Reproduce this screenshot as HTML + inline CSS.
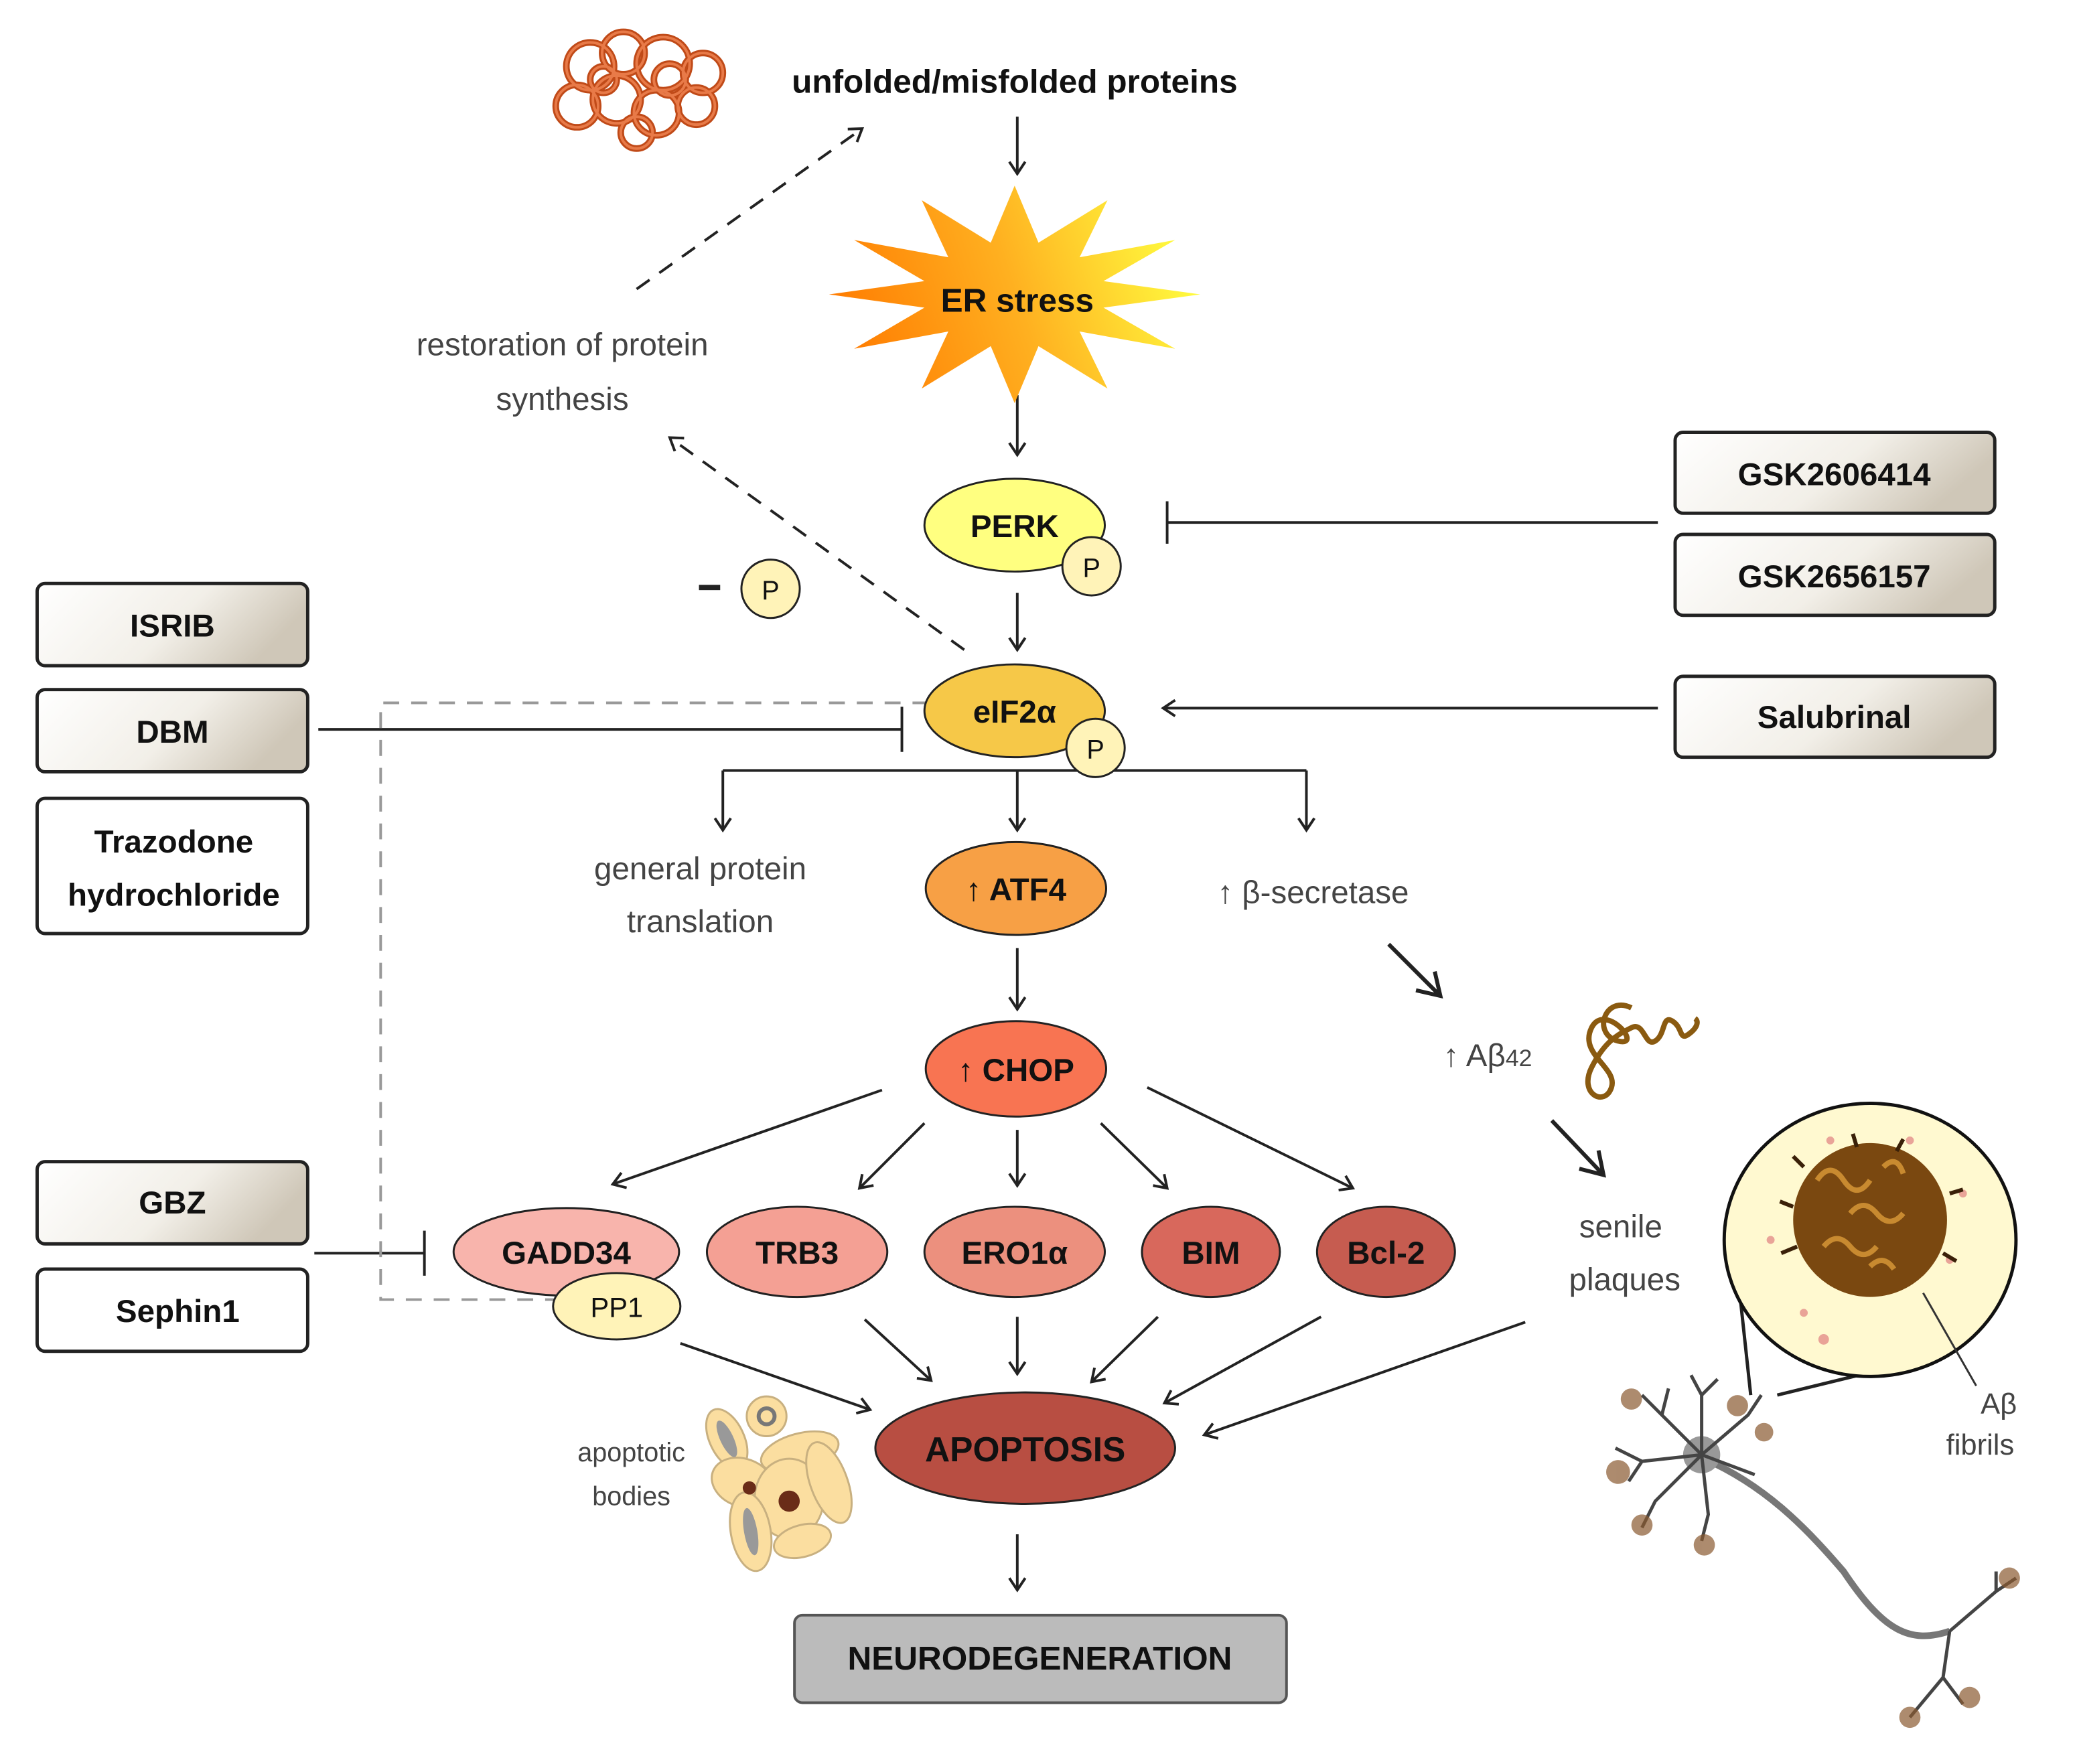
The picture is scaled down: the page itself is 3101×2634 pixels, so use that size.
<!DOCTYPE html>
<html><head><meta charset="utf-8"><style>
html,body{margin:0;padding:0;background:#fff;}
svg{display:block;}
text{font-family:"Liberation Sans",Arial,sans-serif;}
.b{font-weight:bold;fill:#111;}
.g{fill:#444;}
</style></head><body>
<svg width="3101" height="2634" viewBox="0 0 1566 1330.2" preserveAspectRatio="none" xmlns="http://www.w3.org/2000/svg">
<defs>
<marker id="a" markerWidth="14" markerHeight="14" refX="11" refY="7" orient="auto" markerUnits="userSpaceOnUse">
<path d="M2,1 L11,7 L2,13" fill="none" stroke="#222" stroke-width="2"/></marker>
<marker id="ab" markerWidth="24" markerHeight="24" refX="19" refY="12" orient="auto" markerUnits="userSpaceOnUse">
<path d="M3,2 L19,12 L3,22" fill="none" stroke="#222" stroke-width="3"/></marker>
<linearGradient id="star" x1="0" y1="0.6" x2="1" y2="0.4"><stop offset="0" stop-color="#ff7a00"/><stop offset="0.5" stop-color="#ffb020"/><stop offset="1" stop-color="#ffff40"/></linearGradient>
<linearGradient id="box" x1="0" y1="0" x2="1" y2="0.3"><stop offset="0" stop-color="#fff"/><stop offset="0.6" stop-color="#f2efe8"/><stop offset="1" stop-color="#cfc7b8"/></linearGradient>
</defs>

<g fill="none" stroke="#c04a18" stroke-width="5">
<circle cx="445" cy="50" r="18"/><circle cx="470" cy="40" r="16"/><circle cx="500" cy="48" r="20"/><circle cx="530" cy="55" r="15"/>
<circle cx="435" cy="80" r="16"/><circle cx="465" cy="75" r="18"/><circle cx="495" cy="85" r="17"/><circle cx="525" cy="80" r="14"/>
<circle cx="480" cy="100" r="12"/><circle cx="505" cy="60" r="12"/><circle cx="455" cy="60" r="10"/>
</g>
<g fill="none" stroke="#e87a48" stroke-width="2">
<circle cx="445" cy="50" r="18"/><circle cx="470" cy="40" r="16"/><circle cx="500" cy="48" r="20"/><circle cx="530" cy="55" r="15"/>
<circle cx="435" cy="80" r="16"/><circle cx="465" cy="75" r="18"/><circle cx="495" cy="85" r="17"/><circle cx="525" cy="80" r="14"/>
<circle cx="480" cy="100" r="12"/><circle cx="505" cy="60" r="12"/><circle cx="455" cy="60" r="10"/>
</g>
<text x="765" y="70" class="b" font-size="25" text-anchor="middle">unfolded/misfolded proteins</text>

<g stroke="#222" stroke-width="2" fill="none">
<line x1="767" y1="88" x2="767" y2="131" marker-end="url(#a)"/>
<line x1="767" y1="298" x2="767" y2="343" marker-end="url(#a)"/>
<line x1="767" y1="447" x2="767" y2="490" marker-end="url(#a)"/>
<polyline points="545,581 985,581"/>
<line x1="545" y1="581" x2="545" y2="626" marker-end="url(#a)"/>
<line x1="767" y1="581" x2="767" y2="626" marker-end="url(#a)"/>
<line x1="985" y1="581" x2="985" y2="626" marker-end="url(#a)"/>
<line x1="767" y1="715" x2="767" y2="761" marker-end="url(#a)"/>
<line x1="665" y1="822" x2="462" y2="893" marker-end="url(#a)"/>
<line x1="697" y1="847" x2="648" y2="896" marker-end="url(#a)"/>
<line x1="767" y1="852" x2="767" y2="894" marker-end="url(#a)"/>
<line x1="830" y1="847" x2="880" y2="896" marker-end="url(#a)"/>
<line x1="865" y1="820" x2="1020" y2="896" marker-end="url(#a)"/>
<line x1="513" y1="1013" x2="656" y2="1063" marker-end="url(#a)"/>
<line x1="652" y1="995" x2="702" y2="1041" marker-end="url(#a)"/>
<line x1="767" y1="993" x2="767" y2="1036" marker-end="url(#a)"/>
<line x1="873" y1="993" x2="823" y2="1042" marker-end="url(#a)"/>
<line x1="996" y1="993" x2="878" y2="1058" marker-end="url(#a)"/>
<line x1="1150" y1="997" x2="908" y2="1082" marker-end="url(#a)"/>
<line x1="767" y1="1157" x2="767" y2="1199" marker-end="url(#a)"/>
<line x1="1250" y1="394" x2="880" y2="394"/><line x1="880" y1="378" x2="880" y2="410"/>
<line x1="1250" y1="534" x2="877" y2="534" marker-end="url(#a)"/>
<line x1="240" y1="550" x2="680" y2="550"/><line x1="680" y1="533" x2="680" y2="567"/>
<line x1="237" y1="945" x2="320" y2="945"/><line x1="320" y1="928" x2="320" y2="962"/>
<line x1="1047" y1="712" x2="1086" y2="751" stroke-width="3" marker-end="url(#ab)"/>
<line x1="1170" y1="845" x2="1209" y2="886" stroke-width="3" marker-end="url(#ab)"/>
</g>
<g stroke="#222" stroke-width="2" fill="none" stroke-dasharray="12,9">
<line x1="727" y1="490" x2="505" y2="330" marker-end="url(#a)"/>
<line x1="480" y1="218" x2="650" y2="97" marker-end="url(#a)"/>
</g>
<polyline points="700,530 287,530 287,980 420,980" fill="none" stroke="#999" stroke-width="2" stroke-dasharray="12,9"/>

<polygon fill="url(#star)" points="905,222 832,232 886,263 814,250 835,293 783,261 765,304 747,261 695,293 715,250 644,263 697,232 625,222 697,212 644,181 715,194 695,151 747,183 765,140 783,183 835,151 814,194 886,181 832,212"/>
<text x="767" y="235" class="b" font-size="25" text-anchor="middle">ER stress</text>

<text x="424" y="268" class="g" font-size="24" text-anchor="middle">restoration of protein</text>
<text x="424" y="309" class="g" font-size="24" text-anchor="middle">synthesis</text>

<g stroke="#222" stroke-width="1.5">
<ellipse cx="765" cy="396" rx="68" ry="35" fill="#ffff80"/>
<circle cx="823" cy="427" r="22" fill="#fff3b8"/>
<ellipse cx="765" cy="536" rx="68" ry="35" fill="#f6c848"/>
<circle cx="826" cy="564" r="22" fill="#fff3b8"/>
<circle cx="581" cy="444" r="22" fill="#fff3b8"/>
<ellipse cx="766" cy="670" rx="68" ry="35" fill="#f7a045"/>
<ellipse cx="766" cy="806" rx="68" ry="36" fill="#f87452"/>
<ellipse cx="427" cy="944" rx="85" ry="33" fill="#f8b4ac"/>
<ellipse cx="601" cy="944" rx="68" ry="34" fill="#f4a094"/>
<ellipse cx="765" cy="944" rx="68" ry="34" fill="#ec907e"/>
<ellipse cx="913" cy="944" rx="52" ry="34" fill="#d8685c"/>
<ellipse cx="1045" cy="944" rx="52" ry="34" fill="#c65c50"/>
<ellipse cx="465" cy="985" rx="48" ry="25" fill="#fff3b8"/>
<ellipse cx="773" cy="1092" rx="113" ry="42" fill="#b84e42"/>
</g>
<rect x="527" y="441" width="16" height="4" fill="#222"/>
<text x="765" y="405" class="b" font-size="24" text-anchor="middle">PERK</text>
<text x="823" y="435" font-size="20" text-anchor="middle" fill="#111">P</text>
<text x="765" y="545" class="b" font-size="24" text-anchor="middle">eIF2α</text>
<text x="826" y="572" font-size="20" text-anchor="middle" fill="#111">P</text>
<text x="581" y="452" font-size="20" text-anchor="middle" fill="#111">P</text>
<text x="766" y="679" class="b" font-size="24" text-anchor="middle"><tspan font-weight="normal">↑</tspan> ATF4</text>
<text x="766" y="815" class="b" font-size="24" text-anchor="middle"><tspan font-weight="normal">↑</tspan> CHOP</text>
<text x="427" y="953" class="b" font-size="24" text-anchor="middle">GADD34</text>
<text x="601" y="953" class="b" font-size="24" text-anchor="middle">TRB3</text>
<text x="765" y="953" class="b" font-size="24" text-anchor="middle">ERO1α</text>
<text x="913" y="953" class="b" font-size="24" text-anchor="middle">BIM</text>
<text x="1045" y="953" class="b" font-size="24" text-anchor="middle">Bcl-2</text>
<text x="465" y="993" font-size="21" text-anchor="middle" fill="#111">PP1</text>
<text x="773" y="1102" class="b" font-size="26" text-anchor="middle">APOPTOSIS</text>

<text x="528" y="663" class="g" font-size="24" text-anchor="middle">general protein</text>
<text x="528" y="703" class="g" font-size="24" text-anchor="middle">translation</text>
<text x="990" y="681" class="g" font-size="24" text-anchor="middle">↑ β-secretase</text>
<text x="1088" y="804" class="g" font-size="24">↑ Aβ<tspan font-size="18">42</tspan></text>
<path d="M1230,760 c-20,-10 -30,20 -10,25 c20,5 -10,-30 -20,-10 c-10,20 20,30 15,45 c-5,15 -25,5 -15,-15 c10,-20 20,-25 30,-30 c10,-5 10,15 18,10 c8,-5 5,-20 13,-15 c8,5 5,15 12,10 c7,-5 8,-10 5,-12" fill="none" stroke="#8a5a10" stroke-width="4"/>
<text x="1222" y="933" class="g" font-size="24" text-anchor="middle">senile</text>
<text x="1225" y="973" class="g" font-size="24" text-anchor="middle">plaques</text>

<g stroke="#222" stroke-width="2.5" fill="url(#box)">
<rect x="28" y="440" width="204" height="62" rx="6"/>
<rect x="28" y="520" width="204" height="62" rx="6"/>
<rect x="28" y="602" width="204" height="102" rx="6" fill="#fff"/>
<rect x="28" y="876" width="204" height="62" rx="6"/>
<rect x="28" y="957" width="204" height="62" rx="6" fill="#fff"/>
<rect x="1263" y="326" width="241" height="61" rx="6"/>
<rect x="1263" y="403" width="241" height="61" rx="6"/>
<rect x="1263" y="510" width="241" height="61" rx="6"/>
</g>
<rect x="599" y="1218" width="371" height="66" rx="6" fill="#bbb" stroke="#555" stroke-width="2"/>
<text x="130" y="480" class="b" font-size="24" text-anchor="middle">ISRIB</text>
<text x="130" y="560" class="b" font-size="24" text-anchor="middle">DBM</text>
<text x="131" y="643" class="b" font-size="24" text-anchor="middle">Trazodone</text>
<text x="131" y="683" class="b" font-size="24" text-anchor="middle">hydrochloride</text>
<text x="130" y="915" class="b" font-size="24" text-anchor="middle">GBZ</text>
<text x="134" y="997" class="b" font-size="24" text-anchor="middle">Sephin1</text>
<text x="1383" y="366" class="b" font-size="24" text-anchor="middle">GSK2606414</text>
<text x="1383" y="443" class="b" font-size="24" text-anchor="middle">GSK2656157</text>
<text x="1383" y="549" class="b" font-size="24" text-anchor="middle">Salubrinal</text>
<text x="784" y="1259" class="b" font-size="25" text-anchor="middle">NEURODEGENERATION</text>

<text x="476" y="1102" class="g" font-size="20" text-anchor="middle">apoptotic</text>
<text x="476" y="1135" class="g" font-size="20" text-anchor="middle">bodies</text>
<g fill="#fbdea0" stroke="#c8b080" stroke-width="1.5">
<ellipse cx="548" cy="1085" rx="13" ry="24" transform="rotate(-25 548 1085)"/>
<circle cx="578" cy="1068" r="15"/>
<ellipse cx="603" cy="1095" rx="30" ry="14" transform="rotate(-15 603 1095)"/>
<ellipse cx="560" cy="1118" rx="24" ry="18" transform="rotate(20 560 1118)"/>
<ellipse cx="595" cy="1130" rx="26" ry="30"/>
<ellipse cx="625" cy="1118" rx="14" ry="32" transform="rotate(-20 625 1118)"/>
<ellipse cx="566" cy="1155" rx="15" ry="30" transform="rotate(-10 566 1155)"/>
<ellipse cx="605" cy="1162" rx="22" ry="12" transform="rotate(-15 605 1162)"/>
</g>
<circle cx="595" cy="1132" r="8" fill="#6a2c18"/><circle cx="565" cy="1122" r="5" fill="#6a2c18"/>
<ellipse cx="548" cy="1085" rx="5" ry="15" transform="rotate(-25 548 1085)" fill="#999"/>
<ellipse cx="566" cy="1155" rx="5" ry="18" transform="rotate(-10 566 1155)" fill="#999"/>
<circle cx="578" cy="1068" r="6" fill="none" stroke="#777" stroke-width="3"/>

<line x1="1309" y1="950" x2="1320" y2="1052" stroke="#222" stroke-width="2.5"/>
<line x1="1340" y1="1052" x2="1430" y2="1030" stroke="#222" stroke-width="2.5"/>
<ellipse cx="1410" cy="935" rx="110" ry="103" fill="#fff9d0" stroke="#111" stroke-width="2.5"/>
<g fill="#e08080" opacity="0.7"><circle cx="1335" cy="935" r="3"/><circle cx="1380" cy="860" r="3"/><circle cx="1480" cy="900" r="3"/><circle cx="1470" cy="950" r="3"/><circle cx="1375" cy="1010" r="4"/><circle cx="1440" cy="860" r="3"/><circle cx="1360" cy="990" r="3"/></g>
<circle cx="1410" cy="920" r="58" fill="#7a4810"/>
<g fill="none" stroke="#c88a30" stroke-width="4">
<path d="M1370,890 q10,-15 20,0 t20,0"/><path d="M1395,915 q10,-12 20,0 t20,0"/><path d="M1375,940 q10,-12 20,0 t20,0"/><path d="M1410,955 q10,-10 18,2"/><path d="M1420,880 q10,-10 15,5"/>
</g>
<g fill="none" stroke="#3a2008" stroke-width="3"><path d="M1352,910 l-10,-4 M1355,940 l-12,5 M1360,880 l-8,-8 M1470,900 l10,-3 M1465,945 l10,6 M1400,865 l-3,-10 M1430,868 l5,-9"/></g>
<line x1="1450" y1="975" x2="1490" y2="1045" stroke="#333" stroke-width="1.5"/>
<text x="1507" y="1066" class="g" font-size="22" text-anchor="middle">Aβ</text>
<text x="1493" y="1097" class="g" font-size="22" text-anchor="middle">fibrils</text>
<path d="M1285,1100 C1330,1120 1360,1150 1390,1185 C1420,1230 1440,1240 1470,1230" fill="none" stroke="#777" stroke-width="5"/>
<circle cx="1283" cy="1097" r="14" fill="#999"/>
<g stroke="#444" stroke-width="2.5" fill="none">
<path d="M1283,1097 l-30,-30 l-15,-15 M1253,1067 l5,-20 M1283,1097 l0,-45 l-8,-15 M1283,1052 l12,-12 M1283,1097 l35,-30 l10,-15 M1283,1097 l-45,5 l-20,-10 M1238,1102 l-10,15 M1283,1097 l-35,35 l-10,20 M1283,1097 l5,45 l-5,20 M1283,1097 l40,15"/>
<path d="M1470,1230 l35,-30 l15,-10 M1505,1200 l0,-15 M1470,1230 l-5,35 l-25,30 M1465,1265 l15,20"/>
</g>
<g fill="#8a5a30" opacity="0.7"><circle cx="1230" cy="1055" r="8"/><circle cx="1310" cy="1060" r="8"/><circle cx="1220" cy="1110" r="9"/><circle cx="1238" cy="1150" r="8"/><circle cx="1285" cy="1165" r="8"/><circle cx="1330" cy="1080" r="7"/><circle cx="1515" cy="1190" r="8"/><circle cx="1440" cy="1295" r="8"/><circle cx="1485" cy="1280" r="8"/></g>
</svg>
</body></html>
